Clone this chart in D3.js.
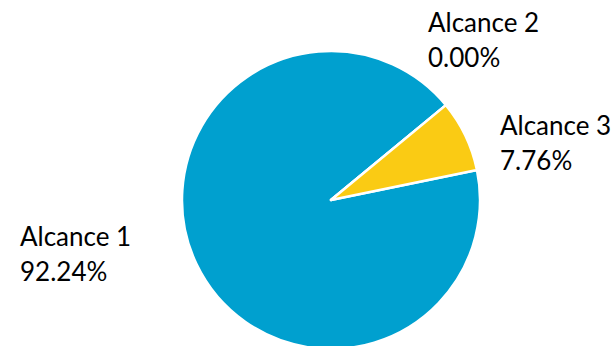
<!DOCTYPE html>
<html>
<head>
<meta charset="utf-8">
<script src="https://cdn.jsdelivr.net/npm/d3@7"></script>
<style>
  html, body { margin: 0; padding: 0; background: #fff; }
  svg { display: block; }
</style>
</head>
<body>
<svg id="chart" width="616" height="346"></svg>
<script>
// Share of each scope
const categories = ["Alcance 1", "Alcance 2", "Alcance 3"];
const values = [92.24, 0.00, 7.76];
const colors = ["#00A0CF", "#00A0CF", "#FACB14"];

const W = 616, H = 346;
const cx = 331, cy = 200, r = 149;
const startDeg = 78.4;

const svg = d3.select("#chart");
const g = svg.append("g").attr("transform", `translate(${cx},${cy})`);

const pie = d3.pie()
  .sort(null)
  .value(d => d)
  .startAngle(startDeg * Math.PI / 180)
  .endAngle((startDeg + 360) * Math.PI / 180);

const arc = d3.arc().innerRadius(0).outerRadius(r);
const arcs = pie(values);

g.selectAll("path.slice")
  .data(arcs)
  .join("path")
  .attr("class", "slice")
  .attr("d", arc)
  .attr("fill", (d, i) => colors[i])
  .attr("stroke", "#fff")
  .attr("stroke-width", 2.5)
  .attr("stroke-linejoin", "round");

// Label anchors (left edge, first-line baseline)
const labelPos = [[20, 246], [428, 32], [500, 135]];
const lineGap = 35;

const labels = svg.selectAll("text.lbl")
  .data(categories)
  .join("text")
  .attr("class", "lbl")
  .attr("font-family", "Lato, 'Liberation Sans', sans-serif")
  .attr("font-size", 26)
  .attr("fill", "#000");

labels.append("tspan")
  .attr("x", (d, i) => labelPos[i][0])
  .attr("y", (d, i) => labelPos[i][1])
  .text(d => d);

labels.append("tspan")
  .attr("x", (d, i) => labelPos[i][0])
  .attr("y", (d, i) => labelPos[i][1] + lineGap)
  .text((d, i) => values[i].toFixed(2) + "%");
</script>
</body>
</html>
